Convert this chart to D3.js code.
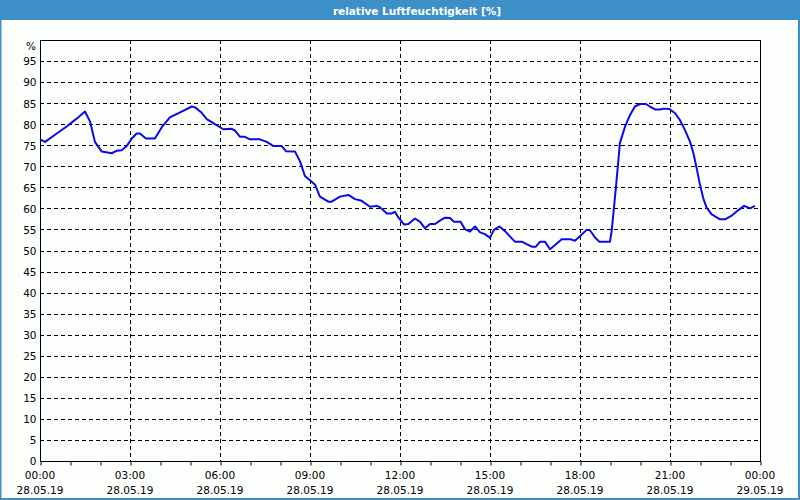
<!DOCTYPE html>
<html><head><meta charset="utf-8">
<script src="https://cdn.jsdelivr.net/npm/d3@7"></script>
<style>
html,body{margin:0;padding:0;background:#fcfefc;}
svg{display:block;}
text{font-family:"DejaVu Sans",Verdana,sans-serif;}
</style></head>
<body><svg id="c" width="800" height="500"></svg>
<script>
const title = "relative Luftfeuchtigkeit [%]";
const yUnit = "%";
const yTicks = [0,5,10,15,20,25,30,35,40,45,50,55,60,65,70,75,80,85,90,95];
const xTickHours = [0,3,6,9,12,15,18,21,24];
const xTimeLabels = ["00:00","03:00","06:00","09:00","12:00","15:00","18:00","21:00","00:00"];
const xDateLabels = ["28.05.19","28.05.19","28.05.19","28.05.19","28.05.19","28.05.19","28.05.19","28.05.19","29.05.19"];
// time in hours since 28.05.19 00:00
const hours = [0,0.17,0.5,0.9,1.2,1.5,1.67,1.83,2.06,2.39,2.56,2.72,2.89,3.06,3.22,3.33,3.53,3.83,4.06,4.33,4.5,4.72,5.06,5.17,5.39,5.56,5.83,6.11,6.39,6.5,6.67,6.83,7.0,7.33,7.56,7.78,8.06,8.2,8.5,8.67,8.83,9.0,9.17,9.33,9.61,9.72,10.0,10.28,10.5,10.72,11.0,11.22,11.33,11.56,11.72,11.83,11.94,12.13,12.28,12.5,12.67,12.83,13.0,13.17,13.33,13.5,13.67,13.8,14.02,14.17,14.33,14.5,14.67,14.83,15.0,15.13,15.31,15.5,15.67,15.83,16.06,16.22,16.39,16.53,16.67,16.83,17.0,17.17,17.39,17.67,17.83,18.0,18.22,18.33,18.5,18.64,19.0,19.06,19.13,19.2,19.28,19.33,19.5,19.67,19.83,20.0,20.2,20.33,20.5,20.67,20.78,20.98,21.17,21.33,21.5,21.67,21.78,21.89,22.0,22.11,22.22,22.39,22.67,22.83,23.06,23.28,23.47,23.67,23.83];
const humidity = [76.4,75.8,77.5,79.5,81.2,83.0,80.6,75.8,73.5,73.1,73.7,73.8,74.8,76.6,77.8,77.8,76.6,76.6,79.3,81.6,82.2,83.0,84.2,84.0,82.7,81.2,80.0,78.8,78.9,78.5,77.0,77.0,76.4,76.4,75.8,74.8,74.8,73.6,73.5,71.1,67.7,66.7,65.6,62.8,61.6,61.6,62.8,63.2,62.2,61.8,60.4,60.6,60.3,58.8,58.8,59.2,57.9,56.2,56.3,57.6,56.8,55.3,56.3,56.3,57.1,57.8,57.7,56.8,56.8,55.0,54.5,55.7,54.3,53.9,53.0,54.9,55.7,54.6,53.3,52.1,52.1,51.5,50.9,50.9,52.1,52.1,50.3,51.3,52.7,52.7,52.3,53.4,54.9,54.8,53.1,52.1,52.1,54.9,60.0,65.2,71.5,75.5,79.4,82.2,84.2,84.8,84.8,84.2,83.5,83.5,83.7,83.6,82.6,81.0,78.6,75.8,73.1,69.5,65.6,62.4,60.2,58.6,57.4,57.4,58.3,59.6,60.6,60.0,60.6];

const svg = d3.select("#c");
const W = 800, H = 500;
const L = 40, R = 760, T = 40, B = 461;
const FS = "10.5px";

// frame
svg.append("rect").attr("x",0).attr("y",0).attr("width",W).attr("height",H).attr("fill","#fcfefc");
svg.append("rect").attr("x",0).attr("y",0).attr("width",W).attr("height",20).attr("fill","#3d8fc7");
svg.append("rect").attr("x",0.5).attr("y",0.5).attr("width",W-1.5).attr("height",H-1.5)
  .attr("fill","none").attr("stroke","#3d8fc7").attr("stroke-width",2);
svg.append("text").attr("x",417).attr("y",14.5).attr("text-anchor","middle")
  .attr("fill","#ffffff").attr("font-weight","bold").attr("font-size",FS).text(title);

const x = d3.scaleLinear().domain([0,24]).range([L,R]);
const y = d3.scaleLinear().domain([0,100]).range([B,T]);

// grid
const g = svg.append("g");
g.selectAll(".hg").data(yTicks.filter(v=>v>0)).join("line")
  .attr("x1",L).attr("x2",R).attr("y1",d=>Math.round(y(d))+0.5).attr("y2",d=>Math.round(y(d))+0.5)
  .attr("stroke","#000").attr("stroke-width",1).attr("stroke-dasharray","4,3");
g.selectAll(".vg").data(xTickHours.filter(h=>h>0&&h<24)).join("line")
  .attr("x1",d=>Math.round(x(d))+0.5).attr("x2",d=>Math.round(x(d))+0.5).attr("y1",T).attr("y2",B)
  .attr("stroke","#000").attr("stroke-width",1).attr("stroke-dasharray","4,3");

// axes with d3
const yAxis = d3.axisLeft(y).tickValues(yTicks).tickSize(0).tickPadding(4).tickFormat(d3.format("d"));
const ya = svg.append("g").attr("transform",`translate(${L+0.5},0.5)`).call(yAxis);
ya.select(".domain").remove();
ya.selectAll("text").attr("font-size",FS).attr("fill","#000").attr("font-family","DejaVu Sans, sans-serif");

const xMinor = d3.range(0,25,1);
const xAxis = d3.axisBottom(x).tickValues(xMinor).tickSize(4).tickFormat("");
const xa = svg.append("g").attr("transform",`translate(0.5,${B+0.5})`).call(xAxis);
xa.select(".domain").remove();
xa.selectAll("line").attr("stroke","#000");

// labels
const xl = svg.append("g");
xl.selectAll(".t").data(xTickHours).join("text")
  .attr("x",d=>x(d)).attr("y",479).attr("text-anchor","middle").attr("font-size",FS).attr("fill","#000")
  .text((d,i)=>xTimeLabels[i]);
xl.selectAll(".d").data(xTickHours).join("text")
  .attr("x",d=>x(d)).attr("y",494).attr("text-anchor","middle").attr("font-size",FS).attr("fill","#000")
  .text((d,i)=>xDateLabels[i]);
svg.append("text").attr("x",36).attr("y",50).attr("text-anchor","end").attr("font-size",FS).attr("fill","#000").text(yUnit);

// plot border
svg.append("rect").attr("x",L+0.5).attr("y",T+0.5).attr("width",R-L).attr("height",B-T)
  .attr("fill","none").attr("stroke","#000").attr("stroke-width",1);

// line
const data = hours.map((h,i)=>({h, v:humidity[i]}));
svg.append("path").datum(data)
  .attr("d", d3.line().x(d=>x(d.h)).y(d=>y(d.v)))
  .attr("fill","none").attr("stroke","#0a0ae6").attr("stroke-width",2).attr("stroke-linejoin","round");
</script></body></html>
